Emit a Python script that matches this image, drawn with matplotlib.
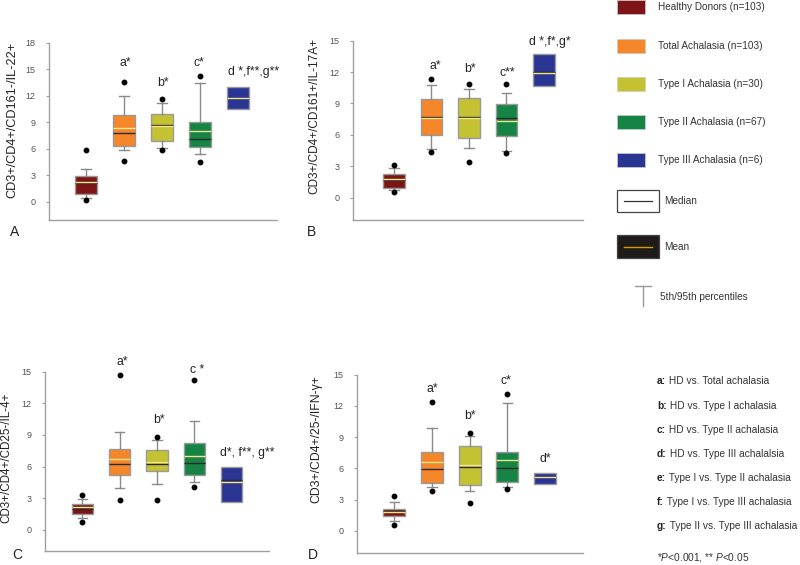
import matplotlib
matplotlib.use("Agg")
import matplotlib.pyplot as plt
from matplotlib.patches import Rectangle
from matplotlib.lines import Line2D

plt.rcParams['font.family'] = ['Liberation Sans', 'DejaVu Sans']
plt.rcParams['mathtext.fontset'] = 'custom'
plt.rcParams['mathtext.rm'] = 'Liberation Sans'
plt.rcParams['mathtext.it'] = 'Liberation Sans:italic'

# ---------------- data ----------------
groups = ["Healthy Donors (n=103)", "Total Achalasia (n=103)", "Type I Achalasia (n=30)",
          "Type II Achalasia (n=67)", "Type III Achalasia (n=6)"]
colors = ["#7d1517", "#f5862a", "#c4c232", "#168444", "#2a3593"]

# Panel A: CD3+/CD4+/CD161-/IL-22+
a_q1 = [0.87, 6.3, 6.94, 6.19, 10.57]
a_med = [2.2, 7.8, 8.68, 7.17, 11.77]
a_q3 = [2.9, 9.8, 9.96, 9.0, 13.0]
a_wlo = [0.45, 5.85, 6.1, 5.47, 10.57]
a_whi = [3.74, 11.96, 11.2, 13.47, 13.0]
a_mean = [2.26, 8.34, 8.6, 8.08, 11.77]
a_fliers = [[0.2, 5.9], [4.6, 13.6], [5.85, 11.7], [4.49, 14.3], []]

# Panel B: CD3+/CD4+/CD161+/IL-17A+
b_q1 = [0.92, 5.99, 5.73, 5.89, 10.67]
b_med = [1.72, 7.67, 7.74, 7.58, 12.04]
b_q3 = [2.26, 9.39, 9.52, 8.95, 13.7]
b_wlo = [0.73, 4.62, 4.78, 4.49, 10.67]
b_whi = [2.83, 10.76, 10.38, 10.03, 13.7]
b_mean = [1.78, 7.62, 7.62, 7.32, 11.94]
b_fliers = [[0.57, 3.12], [4.33, 11.3], [3.38, 10.86], [4.24, 10.86], []]

# Panel C: CD3+/CD4+/CD25-/IL-4+
c_q1 = [1.55, 5.21, 5.56, 5.21, 2.68]
c_med = [2.0, 6.25, 6.25, 6.35, 4.74]
c_q3 = [2.43, 7.67, 7.61, 8.27, 6.0]
c_wlo = [1.17, 3.95, 4.36, 4.55, 2.68]
c_whi = [2.97, 9.3, 8.49, 10.33, 6.0]
c_mean = [2.15, 6.7, 6.41, 6.98, 4.52]
c_fliers = [[0.79, 3.3], [2.84, 14.7], [2.81, 8.78], [4.07, 14.2], []]

# Panel D: CD3+/CD4+/25-/IFN-γ+
d_q1 = [1.45, 4.63, 4.44, 4.73, 4.54]
d_med = [1.95, 5.95, 6.18, 6.02, 5.15]
d_q3 = [2.12, 7.56, 8.14, 7.53, 5.6]
d_wlo = [0.9, 4.18, 3.8, 4.18, 4.54]
d_whi = [2.77, 9.91, 9.14, 12.29, 5.6]
d_mean = [1.83, 6.57, 6.3, 6.79, 5.2]
d_fliers = [[0.58, 3.35], [3.86, 12.36], [2.7, 9.43], [4.02, 13.16], []]

a_notes = [("a*", 2.03, 15.7), ("b*", 3.03, 13.5), ("c*", 3.97, 15.7), ("d *,f**,g**", 5.42, 14.7)]
b_notes = [("a*", 2.1, 12.6), ("b*", 3.03, 12.3), ("c**", 4.02, 11.9), ("d *,f*,g*", 5.16, 14.9)]
c_notes = [("a*", 2.06, 15.9), ("b*", 3.06, 10.4), ("c *", 4.07, 15.2), ("d*, f**, g**", 5.42, 7.26)]
d_notes = [("a*", 2.02, 13.6), ("b*", 3.0, 11.0), ("c*", 3.96, 14.4), ("d*", 5.0, 6.9)]

ylabels = ["CD3+/CD4+/CD161-/IL-22+", "CD3+/CD4+/CD161+/IL-17A+",
           "CD3+/CD4+/CD25-/IL-4+", "CD3+/CD4+/25-/IFN-\u03b3+"]

comparisons = [("a:", "HD vs. Total achalasia"), ("b:", "HD vs. Type I achalasia"),
               ("c:", "HD vs. Type II achalasia"), ("d:", "HD vs. Type III achalalsia"),
               ("e:", "Type I vs. Type II achalasia"), ("f:", "Type I vs. Type III achalasia"),
               ("g:", "Type II vs. Type III achalasia")]

# ---------------- figure ----------------
W, H = 800, 565
fig = plt.figure(figsize=(8, 5.65), dpi=100)

def ax_rect(x0, x1, ytop, ybot):
    return [x0 / W, 1 - ybot / H, (x1 - x0) / W, (ybot - ytop) / H]

panels = [
    dict(rect=ax_rect(49, 277, 43, 220), ylim=(-2.04, 18), xlim=(0.03, 6.03), ticks=range(0, 19, 3),
         q1=a_q1, med=a_med, q3=a_q3, wlo=a_wlo, whi=a_whi, mean=a_mean, fl=a_fliers,
         notes=a_notes, yl=ylabels[0], ylfs=9.2, ylc=(-0.136, 0.565), letter="A", lxy=(15, 232)),
    dict(rect=ax_rect(353, 583, 40.7, 220.3), ylim=(-2.16, 15), xlim=(-0.09, 6.04), ticks=range(0, 16, 3),
         q1=b_q1, med=b_med, q3=b_q3, wlo=b_wlo, whi=b_whi, mean=b_mean, fl=b_fliers,
         notes=b_notes, yl=ylabels[1], ylfs=8.5, ylc=(-0.143, 0.578), letter="B", lxy=(312, 232)),
    dict(rect=ax_rect(45, 269, 371.7, 551), ylim=(-2.0, 15), xlim=(0.0, 6.0), ticks=range(0, 16, 3),
         q1=c_q1, med=c_med, q3=c_q3, wlo=c_wlo, whi=c_whi, mean=c_mean, fl=c_fliers,
         notes=c_notes, yl=ylabels[2], ylfs=8.4, ylc=(-0.146, 0.52), letter="C", lxy=(17, 555)),
    dict(rect=ax_rect(356.7, 582.7, 374.7, 552.7), ylim=(-2.1, 15), xlim=(0.0, 6.0), ticks=range(0, 16, 3),
         q1=d_q1, med=d_med, q3=d_q3, wlo=d_wlo, whi=d_whi, mean=d_mean, fl=d_fliers,
         notes=d_notes, yl=ylabels[3], ylfs=8.8, ylc=(-0.154, 0.64), letter="D", lxy=(313, 555)),
]

gray = "#9a9a9a"
for p in panels:
    ax = fig.add_axes(p["rect"])
    stats = []
    for i in range(5):
        stats.append(dict(med=p["med"][i], q1=p["q1"][i], q3=p["q3"][i],
                          whislo=p["wlo"][i], whishi=p["whi"][i], mean=p["mean"][i],
                          fliers=p["fl"][i], label=""))
    bp = ax.bxp(stats, positions=[1, 2, 3, 4, 5], widths=0.58, patch_artist=True,
                showmeans=True, meanline=True, capwidths=0.25,
                boxprops=dict(edgecolor=gray, linewidth=1.0),
                whiskerprops=dict(color="#8a8a8a", linewidth=1.0),
                capprops=dict(color="#8a8a8a", linewidth=1.0),
                medianprops=dict(color="#2b2b2b", linewidth=1.0),
                meanprops=dict(color="#f3e58a", linewidth=1.0, linestyle="-"),
                flierprops=dict(marker="o", markerfacecolor="black", markeredgecolor="black",
                                markersize=3.2, linestyle="none"))
    for patch, c in zip(bp["boxes"], colors):
        patch.set_facecolor(c)
    # Type III: no whiskers/caps
    for k in (8, 9):
        bp["caps"][k].set_visible(False)
        bp["whiskers"][k].set_visible(False)
    ax.set_xlim(*p["xlim"])
    ax.set_ylim(*p["ylim"])
    ax.set_yticks(list(p["ticks"]))
    ax.set_xticks([])
    for s in ("top", "right"):
        ax.spines[s].set_visible(False)
    for s in ("left", "bottom"):
        ax.spines[s].set_color("#a0a0a0")
        ax.spines[s].set_linewidth(1.0)
    ax.spines["left"].set_bounds(p["ylim"][0], p["ticks"][-1])
    ax.tick_params(axis="y", length=2.5, width=0.8, color="#a0a0a0", labelsize=6.5,
                   labelcolor="#555555", pad=7)
    ax.set_ylabel(p["yl"], fontsize=p["ylfs"], color="#222222")
    ax.yaxis.set_label_coords(*p["ylc"])
    for t, x, y in p["notes"]:
        ax.text(x, y, t, ha="center", va="center", fontsize=8.8, color="#222222")
    fig.text(p["lxy"][0] / W, 1 - p["lxy"][1] / H, p["letter"], fontsize=10,
             ha="center", va="center", color="#222222")

# ---------------- legend / key (pixel coordinates) ----------------
lax = fig.add_axes([0, 0, 1, 1], zorder=-1)
lax.set_xlim(0, W)
lax.set_ylim(H, 0)
lax.axis("off")

row_y = [7, 46, 84, 122, 160]
for c, g, y in zip(colors, groups, row_y):
    lax.add_patch(Rectangle((617, y - 7), 28, 14, facecolor=c, edgecolor="#cccccc", linewidth=0.5))
    lax.text(658, y, g, fontsize=7.2, va="center", ha="left", color="#333333")

lax.add_patch(Rectangle((617, 190), 42, 22, facecolor="white", edgecolor="#444444", linewidth=0.9))
lax.add_line(Line2D([624, 652], [201, 201], color="#333333", linewidth=0.9))
lax.text(664, 201, "Median", fontsize=7.2, va="center", color="#333333")

lax.add_patch(Rectangle((617, 235), 42, 23, facecolor="#1f1b1b", edgecolor="#444444", linewidth=0.9))
lax.add_line(Line2D([624, 652], [246.5, 246.5], color="#c8a000", linewidth=1.0))
lax.text(664, 246.5, "Mean", fontsize=7.2, va="center", color="#333333")

lax.add_line(Line2D([635, 651], [286, 286], color="#999999", linewidth=1.0))
lax.add_line(Line2D([643, 643], [286, 306], color="#999999", linewidth=1.0))
lax.text(660, 297, "5th/95th percentiles", fontsize=7.2, va="center", color="#333333")

comp_y = [380.7, 406, 430, 454, 478, 502, 526]
for (lab, rest), y in zip(comparisons, comp_y):
    t = lax.text(657, y, lab, fontsize=7.3, fontweight="bold", va="center", color="#222222")
    lax.annotate(" " + rest, xy=(1, 0.5), xycoords=t, va="center", ha="left",
                 fontsize=7.3, color="#333333")

lax.text(657, 558, r"*$\it{P}$<0.001, ** $\it{P}$<0.05", fontsize=7.3, va="center", color="#333333")

fig.savefig("out.png", dpi=100, facecolor="white")
